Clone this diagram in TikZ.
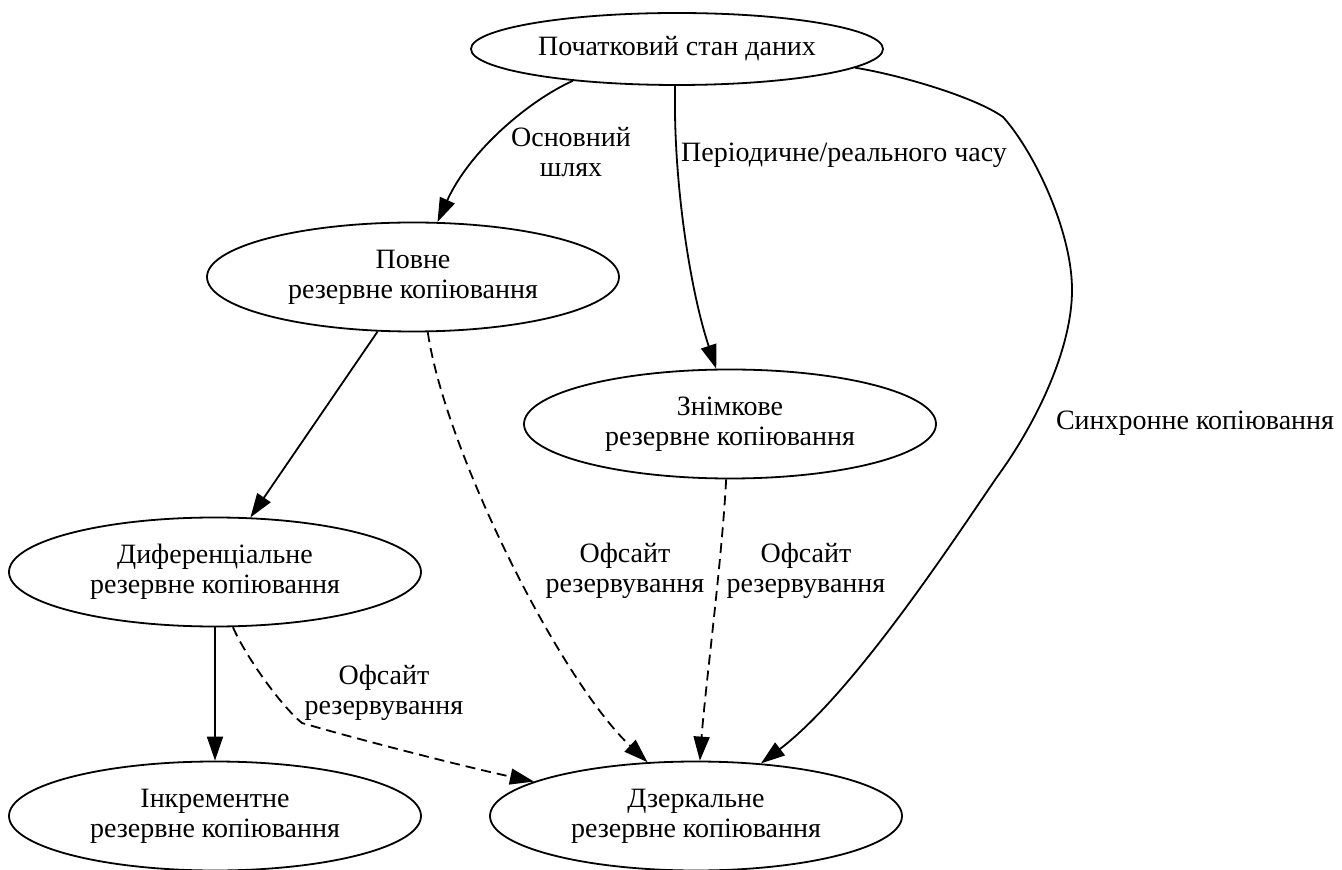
\documentclass[tikz,border=0pt]{standalone}
\usepackage{fontspec}
\setmainfont{Liberation Serif}
\usetikzlibrary{arrows.meta,shapes.geometric}

\begin{document}
\begin{tikzpicture}[
  x=0.5pt, y=-0.5pt,
  state/.style={ellipse, draw, line width=0.9pt, inner sep=0pt,
    minimum width=206pt, minimum height=54.5pt, align=center,
    font=\fontsize{14}{15}\selectfont},
  edge/.style={line width=0.9pt, -{Triangle[length=12pt, width=8pt]}},
  offsite/.style={edge, dash pattern=on 5pt off 3pt},
  elabel/.style={align=center, inner sep=0pt,
    font=\fontsize{14}{15}\selectfont},
]
  \useasboundingbox (0,0) rectangle (1342,870);
  % States
  \node[state, minimum height=36pt] (start) at (677,49) {Початковий стан даних};
  \node[state] (full) at (413,277) {Повне\\резервне копіювання};
  \node[state] (snap) at (730,424) {Знімкове\\резервне копіювання};
  \node[state] (diff) at (215,572) {Диференціальне\\резервне копіювання};
  \node[state] (incr) at (215,816) {Інкрементне\\резервне копіювання};
  \node[state] (mirror) at (696,816) {Дзеркальне\\резервне копіювання};
  % Edges from the initial state
  \draw[edge] (start.197) .. controls (530,100) and (470,150) .. (full.66);
  \draw[edge] (start.267) .. controls (673,180) and (690,290) .. (snap.104);
  \draw[edge] (start.354) .. controls (900,75) and (975,97) .. (1003,117)
    .. controls (1033,150) and (1072,230) .. (1072,290)
    .. controls (1072,350) and (1035,425) .. (997,477)
    .. controls (957,535) and (855,692) .. (mirror.39);
  % Edges from full / snapshot
  \draw[edge] (full.237) -- (diff.57);
  \draw[offsite] (full.285) .. controls (445,450) and (560,680) .. (mirror.132);
  \draw[offsite] (snap.266) .. controls (722,560) and (705,690) .. (mirror.86);
  % Edges from differential
  \draw[edge] (diff.south) -- (incr.north);
  \draw[offsite] (diff.288) .. controls (245,655) and (280,705) .. (302,723)
    .. controls (360,740) and (470,768) .. (mirror.168);
  % Edge labels
  \node[elabel] (lmain) at (571,152) {Основний\\шлях};
  \node[elabel] (lperiod) at (844,155) {Періодичне/реального часу};
  \node[elabel] (lsync) at (1195,423) {Синхронне копіювання};
  \node[elabel] (loff1) at (625,571) {Офсайт\\резервування};
  \node[elabel] (loff2) at (806,571) {Офсайт\\резервування};
  \node[elabel] (loff3) at (384,693) {Офсайт\\резервування};
\end{tikzpicture}
\end{document}
